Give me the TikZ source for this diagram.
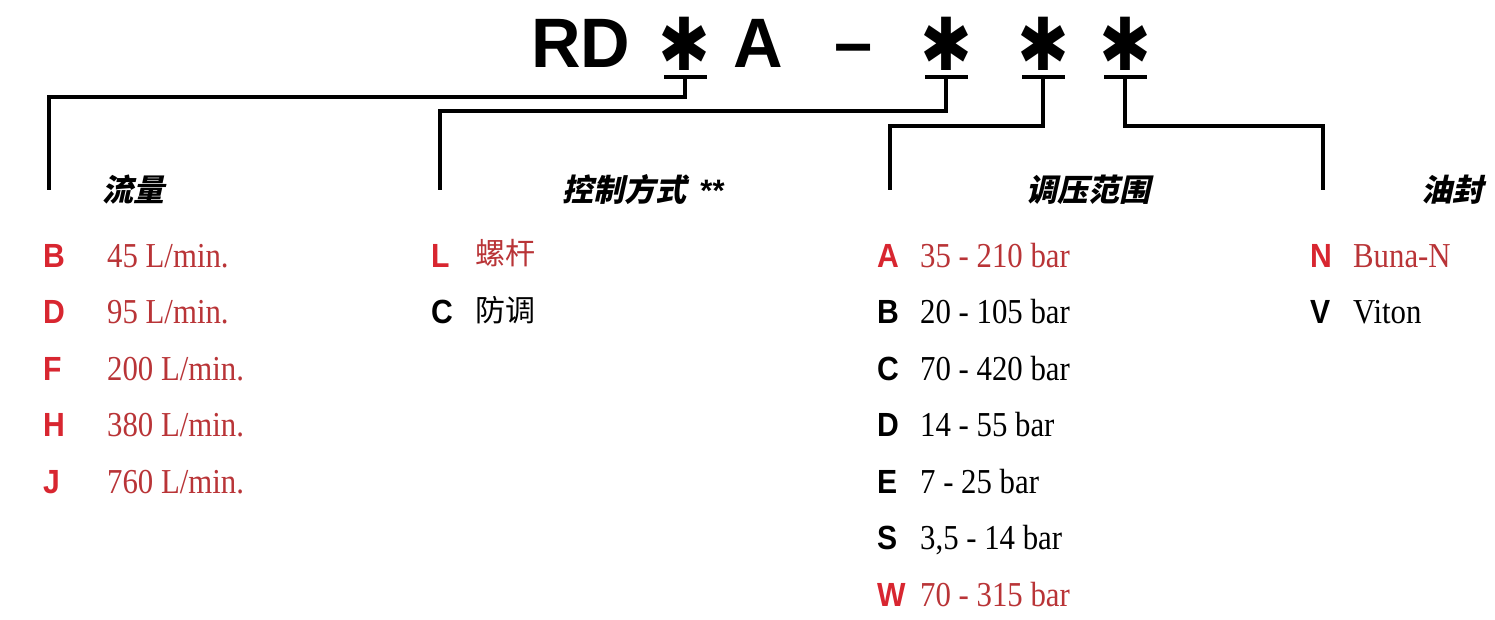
\documentclass[tikz,border=0pt]{standalone}
\usepackage{fontspec}
\setmainfont{Liberation Serif}
\newfontfamily\sansfont{Liberation Sans}
\newfontfamily\symfont{DejaVu Sans}
\newfontfamily\cjk{Noto Sans CJK SC}
\newfontfamily\cjkhead[FakeSlant=0.22]{Noto Sans CJK SC}
\definecolor{redkey}{RGB}{216,38,48}
\definecolor{redval}{RGB}{185,52,55}
\begin{document}
\begin{tikzpicture}[x=1pt,y=-1pt,
  wire/.style={line width=3.6pt,line join=miter},
  ubar/.style={fill=black,inner sep=0pt,minimum width=43pt,minimum height=3.8pt},
  ttl/.style={anchor=base west,inner sep=0pt,font=\sansfont\bfseries\fontsize{70}{70}\selectfont,xscale=0.98},
  astr/.style={inner sep=0pt,font=\symfont\bfseries\fontsize{62}{62}\selectfont,yscale=1.18},
  head/.style={anchor=base west,inner sep=0pt,font=\cjkhead\bfseries\fontsize{31}{31}\selectfont},
  key/.style={anchor=base west,inner sep=0pt,font=\sansfont\bfseries\fontsize{33.5}{34}\selectfont,xscale=0.9},
  val/.style={anchor=base west,inner sep=0pt,font=\fontsize{35}{35}\selectfont,xscale=0.88},
  cval/.style={anchor=base west,inner sep=0pt,font=\cjk\fontsize{30}{30}\selectfont}]
\useasboundingbox[fill=white] (0,0) rectangle (1495,620);
% title
\node[ttl] (rd) at (531,68) {RD};
\node[astr] (s1) at (684,44) {✱};
\node[ttl] (ta) at (733,68) {A};
\node[ttl] (td) at (834,67) {–};
\node[astr] (s2) at (946,44) {✱};
\node[astr] (s3) at (1043,44) {✱};
\node[astr] (s4) at (1125,44) {✱};
% underbars
\node[ubar] (b1) at (685,77) {};
\node[ubar] (b2) at (946,77) {};
\node[ubar] (b3) at (1043,77) {};
\node[ubar] (b4) at (1125,77) {};
% connector knees and ends
\coordinate (k1) at (49,97);
\coordinate (k2) at (440,111);
\coordinate (k3) at (890,126);
\coordinate (k4) at (1323,126);
\coordinate (e1) at (49,190);
\coordinate (e2) at (440,190);
\coordinate (e3) at (890,190);
\coordinate (e4) at (1323,190);
\draw[wire] (b1.center) |- (k1) -- (e1);
\draw[wire] (b2.center) |- (k2) -- (e2);
\draw[wire] (b3.center) |- (k3) -- (e3);
\draw[wire] (b4.center) |- (k4) -- (e4);
% headings
\node[head] (h1) at (102,202) {流量};
\node[head] (h2) at (562,202) {控制方式\hspace{13pt}{\sansfont\bfseries\itshape **}};
\node[head] (h3) at (1026,202) {调压范围};
\node[head] (h4) at (1421,202) {油封};
% column 1
\node[key,redkey] (k1b) at (43,267) {B};
\node[val,redval] (v1b) at (107,267) {45 L/min.};
\node[key,redkey] (k1d) at (43,323.5) {D};
\node[val,redval] (v1d) at (107,323.5) {95 L/min.};
\node[key,redkey] (k1f) at (43,380) {F};
\node[val,redval] (v1f) at (107,380) {200 L/min.};
\node[key,redkey] (k1h) at (43,436.5) {H};
\node[val,redval] (v1h) at (107,436.5) {380 L/min.};
\node[key,redkey] (k1j) at (43,493) {J};
\node[val,redval] (v1j) at (107,493) {760 L/min.};
% column 2
\node[key,redkey] (k2l) at (431,267) {L};
\node[cval,redval] (v2l) at (475,265) {螺杆};
\node[key] (k2c) at (431,323.5) {C};
\node[cval] (v2c) at (475,321.5) {防调};
% column 3
\node[key,redkey] (k3a) at (877,267) {A};
\node[val,redval] (v3a) at (920,267) {35 - 210 bar};
\node[key] (k3b) at (877,323.5) {B};
\node[val] (v3b) at (920,323.5) {20 - 105 bar};
\node[key] (k3c) at (877,380) {C};
\node[val] (v3c) at (920,380) {70 - 420 bar};
\node[key] (k3d) at (877,436.5) {D};
\node[val] (v3d) at (920,436.5) {14 - 55 bar};
\node[key] (k3e) at (877,493) {E};
\node[val] (v3e) at (920,493) {7 - 25 bar};
\node[key] (k3s) at (877,549.5) {S};
\node[val] (v3s) at (920,549.5) {3,5 - 14 bar};
\node[key,redkey] (k3w) at (877,606) {W};
\node[val,redval] (v3w) at (920,606) {70 - 315 bar};
% column 4
\node[key,redkey] (k4n) at (1310,267) {N};
\node[val,redval] (v4n) at (1353,267) {Buna-N};
\node[key] (k4v) at (1310,323.5) {V};
\node[val] (v4v) at (1353,323.5) {Viton};
\end{tikzpicture}
\end{document}
